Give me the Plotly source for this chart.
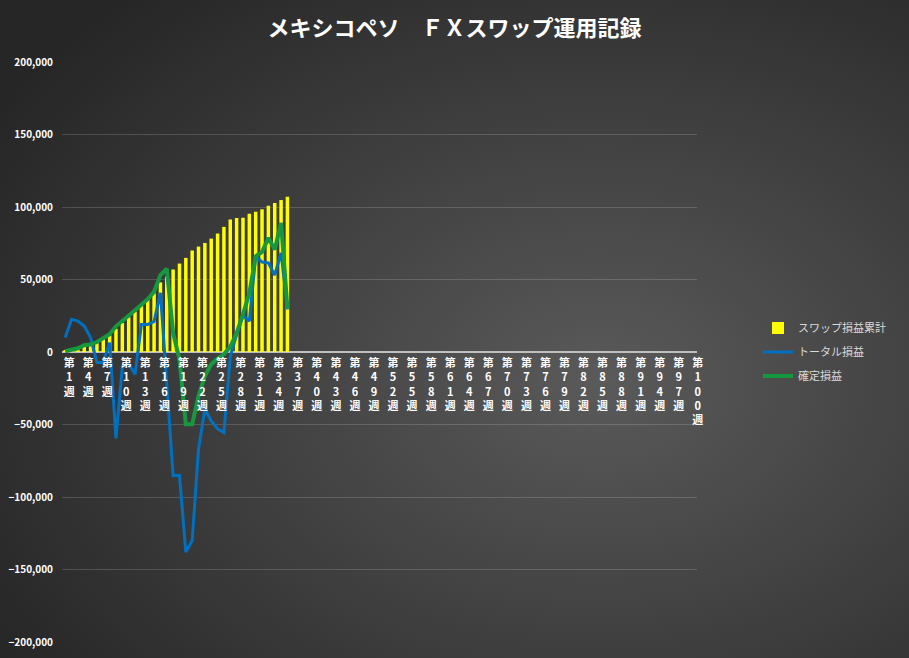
"""メキシコペソ FXスワップ運用記録 - weekly swap / total / realised P&L."""

import base64

import plotly.graph_objects as go

# All 100 week categories on the axis, data only up to week 36
CATEGORIES = [f"第{i}週" for i in range(1, 101)]
TICK_WEEKS = list(range(1, 101, 3))

# スワップ損益累計 (bars)
swap_total = [
    900, 1800, 2700, 4500, 5400, 6800, 9700, 11500, 16000, 20000,
    24000, 28000, 32000, 36000, 40500, 48000, 52000, 56900, 61000, 64900,
    70000, 72700, 75200, 78200, 81700, 86300, 91300, 92400, 92600, 95400,
    96800, 98400, 100900, 102800, 104800, 107000,
]

# トータル損益 (blue line)
total_pl = [
    10000, 22500, 21300, 17900, 10000, -7300, -7300, 6400, -59600, -10000,
    -8000, -15500, 19000, 19000, 21000, 40800, -22000, -85300, -85000, -138000,
    -130000, -67000, -39500, -47500, -53000, -55500, -3000, 12000, 25000, 21300,
    66100, 62000, 61500, 53000, 68400, 29400,
]

# 確定損益 (green line)
realised_pl = [
    500, 1800, 2600, 4700, 5100, 6900, 10000, 12300, 17700, 21200,
    25000, 28800, 32600, 36500, 41500, 53000, 57500, 13000, -5000, -49800,
    -49800, -30300, -16500, -8500, -4500, -1500, 3500, 13000, 26000, 40500,
    66000, 69000, 78700, 70700, 89000, 30000,
]

weeks = CATEGORIES[:len(swap_total)]

FONT = "Noto Sans CJK JP"
W, H = 909, 658
ML, MR, MT, MB = 62, 212, 62, 16
PW, PH = W - ML - MR, H - MT - MB

# radial grey background like the Excel chart style
bg_svg = f"""<svg xmlns="http://www.w3.org/2000/svg" width="{W}" height="{H}">
<defs><radialGradient id="g" cx="66%" cy="58%" r="78%">
<stop offset="0" stop-color="#5a5a5a"/><stop offset="1" stop-color="#262626"/>
</radialGradient></defs>
<rect width="{W}" height="{H}" fill="url(#g)"/></svg>"""
bg_uri = "data:image/svg+xml;base64," + base64.b64encode(bg_svg.encode()).decode()

fig = go.Figure()

fig.add_trace(go.Bar(
    x=weeks, y=swap_total, name="スワップ損益累計",
    marker=dict(color="#FFFF00", line=dict(width=0)),
    legendgroup="a",
))
fig.add_trace(go.Scatter(
    x=weeks, y=total_pl, name="トータル損益", mode="lines",
    line=dict(color="#0070C0", width=3),
    legendgroup="b",
))
fig.add_trace(go.Scatter(
    x=weeks, y=realised_pl, name="確定損益", mode="lines",
    line=dict(color="#16983F", width=4),
    legendgroup="c",
))

tick_vals = [CATEGORIES[w - 1] for w in TICK_WEEKS]
tick_text = ["<br>".join(["第"] + list(str(w)) + ["週"]) for w in TICK_WEEKS]

fig.update_layout(
    width=W, height=H,
    margin=dict(l=ML, r=MR, t=MT, b=MB),
    paper_bgcolor="#333333",
    plot_bgcolor="rgba(0,0,0,0)",
    font=dict(family=FONT, color="#ffffff"),
    bargap=0.45,
    title=dict(
        text="<b>メキシコペソ　ＦＸスワップ運用記録</b>",
        x=0.5, xref="container", xanchor="center",
        y=1 - 28 / H, yref="container", yanchor="middle",
        font=dict(size=22, color="#ffffff", family=FONT),
    ),
    xaxis=dict(
        type="category",
        categoryorder="array", categoryarray=CATEGORIES,
        range=[-0.5, 99.5],
        anchor="free", position=0.5,
        showgrid=False, showline=False, ticks="",
        tickmode="array", tickvals=tick_vals, ticktext=tick_text,
        tickangle=0, automargin=False, ticklabelshift=4, ticklabelstandoff=3,
        tickfont=dict(size=11, color="#ffffff", family=FONT, weight="bold"),
    ),
    yaxis=dict(
        range=[-200000, 200000],
        dtick=50000, tickformat=",",
        showgrid=True, gridcolor="rgba(255,255,255,0.16)", gridwidth=1,
        zeroline=True, zerolinecolor="#bfbfbf", zerolinewidth=1.5,
        showline=False, ticks="", automargin=False, ticklabelstandoff=8,
        tickfont=dict(size=10, color="#ffffff", family=FONT, weight="bold"),
    ),
    legend=dict(
        x=(758 - ML) / PW, y=0.5, xanchor="left", yanchor="middle",
        bgcolor="rgba(0,0,0,0)",
        font=dict(size=11, color="#d9d9d9", family=FONT),
        traceorder="grouped", tracegroupgap=5,
    ),
    showlegend=True,
)

fig.add_layout_image(dict(
    source=bg_uri, xref="paper", yref="paper",
    x=-ML / PW, y=1 + MT / PH,
    sizex=W / PW, sizey=H / PH,
    xanchor="left", yanchor="top",
    sizing="stretch", layer="below",
))

# drop the default page margin so the chart sits at the window's corner
fig.write_html(
    "out.html",
    config={"displayModeBar": False},
    post_script="document.body.style.margin='0';",
)
